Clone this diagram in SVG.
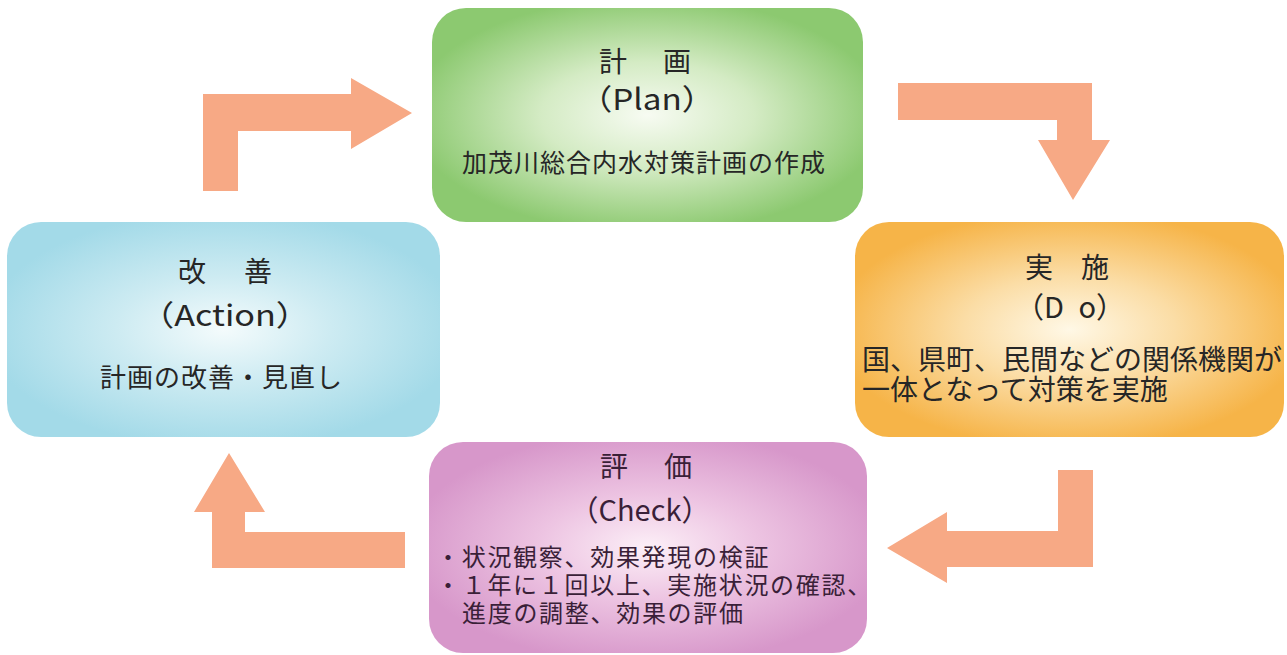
<svg xmlns="http://www.w3.org/2000/svg" width="1287" height="655" viewBox="0 0 1287 655">
  <defs>
    <radialGradient id="gPlan" cx="0.5" cy="0.5" r="0.55">
      <stop offset="0" stop-color="#F7FBF2"/>
      <stop offset="0.45" stop-color="#D4EBC4"/>
      <stop offset="1" stop-color="#8CC970"/>
    </radialGradient>
    <radialGradient id="gDo" cx="0.5" cy="0.5" r="0.55">
      <stop offset="0" stop-color="#FFF8E6"/>
      <stop offset="0.45" stop-color="#FBDDA6"/>
      <stop offset="1" stop-color="#F6B448"/>
    </radialGradient>
    <radialGradient id="gAct" cx="0.5" cy="0.5" r="0.55">
      <stop offset="0" stop-color="#F4FBFC"/>
      <stop offset="0.45" stop-color="#CDEBF2"/>
      <stop offset="1" stop-color="#A3DAE8"/>
    </radialGradient>
    <radialGradient id="gChk" cx="0.5" cy="0.5" r="0.55">
      <stop offset="0" stop-color="#FCEFF7"/>
      <stop offset="0.45" stop-color="#EDC4E2"/>
      <stop offset="1" stop-color="#D797CA"/>
    </radialGradient>
  </defs>
  <style>
    text { font-family: "Noto Sans CJK JP", "Noto Sans", sans-serif; fill: #262626; }
    .h { font-size: 28px; }
    .p { font-size: 29px; text-anchor: middle; }
    .chk text { fill: #3A1F38; }
    .arrow { fill: #F7A985; }
  </style>

  <g id="connectors">
    <polygon class="arrow" points="203,191 203,94 351,94 351,78 412,113 351,149 351,131 238,131 238,191"/>
    <polygon class="arrow" points="898,83 1092,83 1092,140 1110,140 1073,200 1038,140 1057,140 1057,120 898,120"/>
    <polygon class="arrow" points="1058,470 1093,470 1093,567 947,567 947,583 887,548 947,512 947,531 1058,531"/>
    <polygon class="arrow" points="405,532 405,568 212,568 212,512 194,512 229,453 265,512 245,512 245,532"/>
  </g>

  <g id="plan">
    <rect x="432" y="8" width="431" height="214" rx="34" fill="url(#gPlan)"/>
    <text class="h" x="599" y="72" letter-spacing="4">計　画</text>
    <text class="p" x="647" y="110" textLength="136" lengthAdjust="spacingAndGlyphs">（Plan）</text>
    <text x="462" y="172" font-size="25" letter-spacing="1">加茂川総合内水対策計画の作成</text>
  </g>

  <g id="do">
    <rect x="855" y="222" width="429" height="215" rx="34" fill="url(#gDo)"/>
    <text class="h" x="1025" y="278">実　施</text>
    <text class="p" x="1070" y="318" font-size="30">（D&#8194;o）</text>
    <text font-size="28"><tspan x="862" y="370">国、県町、民間などの関係機関が</tspan><tspan x="862" y="400">一体となって対策を実施</tspan></text>
  </g>

  <g id="action">
    <rect x="7" y="222" width="433" height="215" rx="34" fill="url(#gAct)"/>
    <text class="h" x="178" y="282" letter-spacing="5">改　善</text>
    <text class="p" x="225" y="326" textLength="170" lengthAdjust="spacingAndGlyphs">（Action）</text>
    <text x="100" y="387" font-size="26" letter-spacing="1">計画の改善・見直し</text>
  </g>

  <g id="check" class="chk">
    <rect x="429" y="442" width="438" height="211" rx="34" fill="url(#gChk)"/>
    <text class="h" x="600" y="477" letter-spacing="4">評　価</text>
    <text class="p" x="640" y="521">（Check）</text>
    <text font-size="24" letter-spacing="1.7"><tspan x="436" y="566">・状況観察、効果発現の検証</tspan><tspan x="436" y="594">・１年に１回以上、実施状況の確認、</tspan><tspan x="462" y="622">進度の調整、効果の評価</tspan></text>
  </g>
</svg>
